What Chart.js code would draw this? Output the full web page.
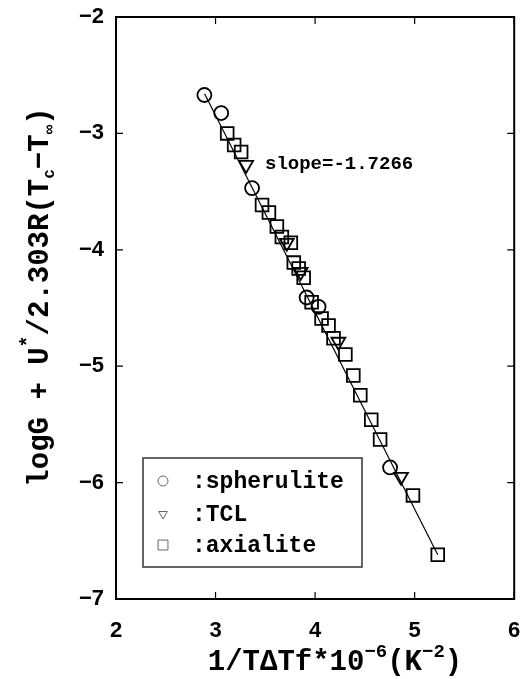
<!DOCTYPE html>
<html>
<head>
<meta charset="utf-8">
<script src="https://cdn.jsdelivr.net/npm/chart.js@4.4.0/dist/chart.umd.min.js"></script>
<style>
  body { margin: 0; background: #fff; }
  #wrap { width: 525px; height: 679px; }
</style>
</head>
<body>
<div id="wrap"><canvas id="myChart"></canvas></div>
<script>
// data
const spheruliteX = [2.888, 3.057, 3.367, 3.915, 4.035, 4.753];
const spheruliteY = [-2.67, -2.825, -3.47, -4.41, -4.49, -5.87];

const tclX = [3.307, 3.716, 3.855, 4.234, 4.863];
const tclY = [-3.27, -3.94, -4.19, -4.79, -5.95];

const axialiteX = [3.117, 3.187, 3.257, 3.467, 3.536, 3.616, 3.666, 3.756, 3.786, 3.835,
                   3.885, 3.965, 4.065, 4.135, 4.185, 4.304, 4.384, 4.454, 4.564, 4.653,
                   4.983, 5.232];
const axialiteY = [-3.00, -3.10, -3.16, -3.615, -3.68, -3.80, -3.89, -3.94, -4.11, -4.16,
                   -4.24, -4.45, -4.59, -4.65, -4.76, -4.90, -5.08, -5.25, -5.46, -5.63,
                   -6.11, -6.62];

// fitted line end points
const fitX = [2.89, 5.232];
const fitY = [-2.66, -6.62];

const xTicks = [2, 3, 4, 5, 6];
const yTicks = [-7, -6, -5, -4, -3, -2];
const slopeLabel = 'slope=-1.7266';

function pts(xs, ys) {
    return xs.map((x, i) => ({ x: x, y: ys[i] }));
}

// draws a row of text pieces, each {t, dy, size}
function drawPieces(ctx, pieces, x, y) {
    let cx = x;
    pieces.forEach(p => {
        ctx.font = 'bold ' + p.size + 'px "Liberation Mono", monospace';
        ctx.fillText(p.t, cx, y + (p.dy || 0));
        cx += ctx.measureText(p.t).width;
    });
    return cx - x;
}
function piecesWidth(ctx, pieces) {
    let w = 0;
    pieces.forEach(p => {
        ctx.font = 'bold ' + p.size + 'px "Liberation Mono", monospace';
        w += ctx.measureText(p.t).width;
    });
    return w;
}

const framePlugin = {
    id: 'frame',
    afterDraw(chart) {
        const ctx = chart.ctx;
        const a = chart.chartArea;
        const xs = chart.scales.x, ys = chart.scales.y;
        ctx.save();
        ctx.strokeStyle = '#000';
        ctx.fillStyle = '#000';
        ctx.lineWidth = 2;
        ctx.strokeRect(a.left, a.top, a.right - a.left, a.bottom - a.top);

        // inward ticks on all sides
        ctx.lineWidth = 1.2;
        xTicks.forEach(v => {
            const px = xs.getPixelForValue(v);
            ctx.beginPath();
            ctx.moveTo(px, a.bottom); ctx.lineTo(px, a.bottom - 7);
            ctx.moveTo(px, a.top); ctx.lineTo(px, a.top + 7);
            ctx.stroke();
        });
        yTicks.forEach(v => {
            const py = ys.getPixelForValue(v);
            ctx.beginPath();
            ctx.moveTo(a.left, py); ctx.lineTo(a.left + 7, py);
            ctx.moveTo(a.right, py); ctx.lineTo(a.right - 7, py);
            ctx.stroke();
        });

        // slope annotation
        ctx.font = 'bold 19px "Liberation Mono", monospace';
        ctx.textBaseline = 'middle';
        ctx.textAlign = 'left';
        ctx.fillText(slopeLabel, 265, 164);

        // legend box
        ctx.lineWidth = 1.5;
        ctx.strokeStyle = '#333';
        ctx.strokeRect(143, 458, 219, 109);
        const rows = [
            { style: 'circle', rot: 0, label: ':spherulite', y: 481 },
            { style: 'triangle', rot: 180, label: ':TCL', y: 514 },
            { style: 'rect', rot: 0, label: ':axialite', y: 545 }
        ];
        rows.forEach(r => {
            ctx.strokeStyle = '#666';
            ctx.fillStyle = 'rgba(0,0,0,0)';
            ctx.lineWidth = 1;
            Chart.helpers.drawPoint(ctx, { pointStyle: r.style, rotation: r.rot, radius: r.style === 'rect' ? 7 : 5, borderWidth: 1 }, 163, r.y);
            ctx.fillStyle = '#000';
            ctx.font = 'bold 23px "Liberation Mono", monospace';
            ctx.fillText(r.label, 192, r.y + 1);
        });

        // x title
        ctx.textBaseline = 'alphabetic';
        const xt = [
            { t: '1/TΔTf*10', size: 29 },
            { t: '−6', size: 19, dy: -13 },
            { t: '(K', size: 29 },
            { t: '−2', size: 19, dy: -13 },
            { t: ')', size: 29 }
        ];
        const xw = piecesWidth(ctx, xt);
        drawPieces(ctx, xt, 335 - xw / 2, 670);

        // y title, rotated
        const yt = [
            { t: 'logG + U', size: 29 },
            { t: '*', size: 20, dy: -14 },
            { t: '/2.303R(T', size: 29 },
            { t: 'c', size: 16, dy: 6 },
            { t: '−T', size: 29 },
            { t: '∞', size: 16, dy: 6 },
            { t: ')', size: 29 }
        ];
        const yw = piecesWidth(ctx, yt);
        ctx.translate(48, 297);
        ctx.rotate(-Math.PI / 2);
        drawPieces(ctx, yt, -yw / 2, 0);
        ctx.restore();
    }
};

const tickFont = { family: '"Liberation Sans", Arial, sans-serif', size: 22, weight: 'bold' };

const ctx = document.getElementById('myChart').getContext('2d');
const chart = new Chart(ctx, {
    type: 'scatter',
    data: {
        datasets: [
            {
                type: 'line',
                label: 'fit',
                data: pts(fitX, fitY),
                borderColor: '#000',
                borderWidth: 1.2,
                pointRadius: 0,
                fill: false,
                order: 2
            },
            {
                label: 'spherulite',
                data: pts(spheruliteX, spheruliteY),
                pointStyle: 'circle',
                pointRadius: 7,
                borderColor: '#000',
                backgroundColor: 'rgba(255,255,255,0)',
                pointBorderWidth: 1.8,
                order: 1
            },
            {
                label: 'TCL',
                data: pts(tclX, tclY),
                pointStyle: 'triangle',
                rotation: 180,
                pointRadius: 8,
                borderColor: '#000',
                backgroundColor: 'rgba(255,255,255,0)',
                pointBorderWidth: 1.8,
                order: 1
            },
            {
                label: 'axialite',
                data: pts(axialiteX, axialiteY),
                pointStyle: 'rect',
                pointRadius: 9,
                borderColor: '#000',
                backgroundColor: 'rgba(255,255,255,0)',
                pointBorderWidth: 1.8,
                order: 1
            }
        ]
    },
    options: {
        responsive: true,
        maintainAspectRatio: false,
        animation: false,
        layout: { padding: { top: 17, right: 2, left: 0, bottom: 0 } },
        plugins: {
            legend: { display: false },
            tooltip: { enabled: false }
        },
        scales: {
            x: {
                type: 'linear',
                min: 2,
                max: 6,
                afterBuildTicks: s => { s.ticks = xTicks.map(v => ({ value: v })); },
                afterFit: s => { s.height = 80; s.paddingLeft = 0; s.paddingRight = 0; },
                grid: { display: false },
                border: { display: false },
                ticks: { color: '#000', font: tickFont, padding: 11, callback: v => String(v) }
            },
            y: {
                type: 'linear',
                min: -7,
                max: -2,
                afterBuildTicks: s => { s.ticks = yTicks.map(v => ({ value: v })); },
                afterFit: s => { s.width = 116; s.paddingTop = 0; s.paddingBottom = 0; },
                grid: { display: false },
                border: { display: false },
                ticks: { color: '#000', font: tickFont, padding: 4, callback: v => '−' + Math.abs(v) }
            }
        }
    },
    plugins: [framePlugin]
});
</script>
</body>
</html>
